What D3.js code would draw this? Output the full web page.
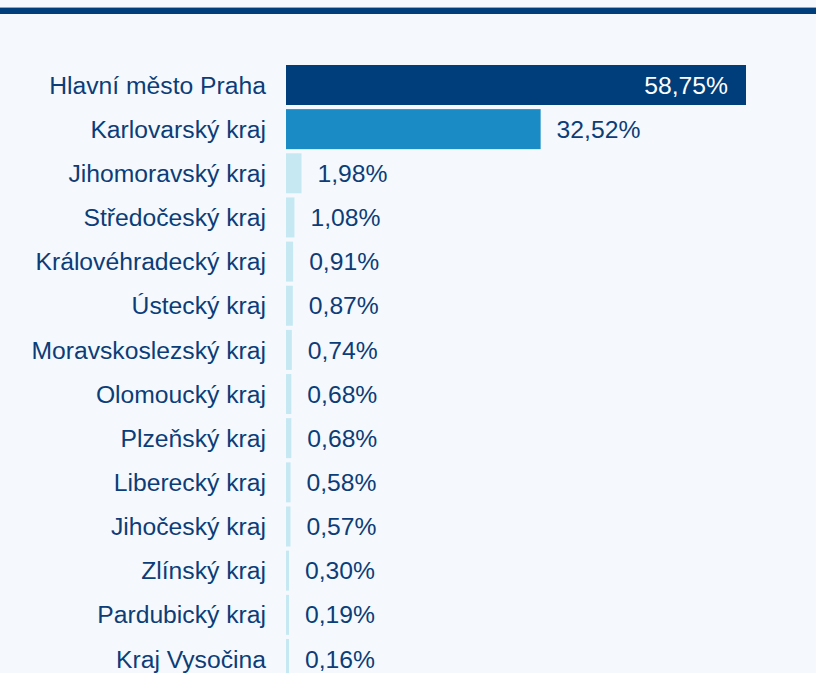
<!DOCTYPE html>
<html>
<head>
<meta charset="utf-8">
<script src="https://cdn.jsdelivr.net/npm/d3@7"></script>
<style>
  html, body { margin: 0; padding: 0; background: #f5f9fd; overflow: hidden; }
  svg { display: block; }
  text { font-family: "Liberation Sans", Arial, Helvetica, sans-serif; }
</style>
</head>
<body>
<svg id="chart" width="816" height="673"></svg>
<script>
const categories = [
  "Hlavní město Praha", "Karlovarský kraj", "Jihomoravský kraj", "Středočeský kraj",
  "Královéhradecký kraj", "Ústecký kraj", "Moravskoslezský kraj", "Olomoucký kraj",
  "Plzeňský kraj", "Liberecký kraj", "Jihočeský kraj", "Zlínský kraj",
  "Pardubický kraj", "Kraj Vysočina"
];
const values = [58.75, 32.52, 1.98, 1.08, 0.91, 0.87, 0.74, 0.68, 0.68, 0.58, 0.57, 0.30, 0.19, 0.16];
const barColors = ["#003d7b", "#1a8bc5", "#c5e8f3", "#c5e8f3", "#c5e8f3", "#c5e8f3", "#c5e8f3",
  "#c5e8f3", "#c5e8f3", "#c5e8f3", "#c5e8f3", "#c5e8f3", "#c5e8f3", "#c5e8f3"];

const data = categories.map((c, i) => ({ name: c, value: values[i], color: barColors[i] }));

const svg = d3.select("#chart");
const W = 816, H = 673;

svg.append("rect").attr("x", 0).attr("y", 0).attr("width", W).attr("height", H).attr("fill", "#f5f9fd");
// top rule
svg.append("rect").attr("x", 0).attr("y", 7).attr("width", W).attr("height", 1).attr("fill", "#8fa8c2");
svg.append("rect").attr("x", 0).attr("y", 8).attr("width", W).attr("height", 6).attr("fill", "#003d7b");

const x0 = 286;
const x = d3.scaleLinear().domain([0, d3.max(values)]).range([x0, 746]);
const step = 44.15, gap = 4.15;
const y = d3.scaleBand().domain(categories).range([65, 65 + step * categories.length - gap])
  .paddingInner(gap / step).paddingOuter(0);

const fmt = v => d3.format(".2f")(v).replace(".", ",") + "%";
const fs = 24.7;

const g = svg.append("g");

g.selectAll("rect.bar").data(data).join("rect")
  .attr("class", "bar")
  .attr("x", x0)
  .attr("y", d => y(d.name))
  .attr("width", d => Math.max(3, x(d.value) - x0))
  .attr("height", y.bandwidth())
  .attr("fill", d => d.color);

g.selectAll("text.cat").data(data).join("text")
  .attr("class", "cat")
  .attr("x", 266)
  .attr("y", d => y(d.name) + y.bandwidth() / 2)
  .attr("dy", "0.35em")
  .attr("text-anchor", "end")
  .attr("font-size", fs)
  .attr("fill", "#0c3d78")
  .text(d => d.name);

g.selectAll("text.val").data(data).join("text")
  .attr("class", "val")
  .attr("x", d => d.value > 40 ? x(d.value) - 18 : Math.max(x0 + 3, x(d.value)) + 16)
  .attr("y", d => y(d.name) + y.bandwidth() / 2)
  .attr("dy", "0.35em")
  .attr("text-anchor", d => d.value > 40 ? "end" : "start")
  .attr("font-size", fs)
  .attr("fill", d => d.value > 40 ? "#ffffff" : "#0c3d78")
  .text(d => fmt(d.value));
</script>
</body>
</html>
